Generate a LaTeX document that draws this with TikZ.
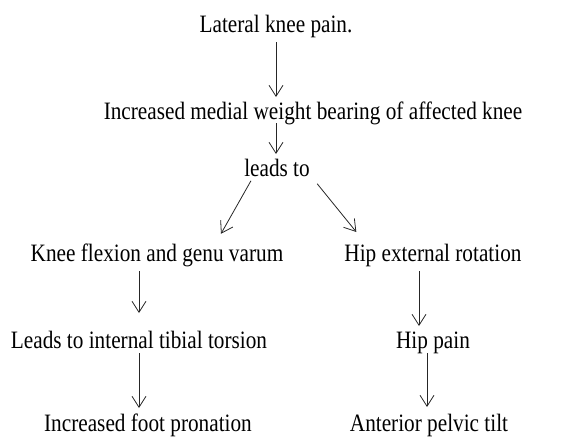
\documentclass[tikz,border=0pt]{standalone}
\usepackage{fontspec}
\setmainfont[FakeStretch=0.85]{Liberation Serif}
\usetikzlibrary{arrows.meta,positioning}

\begin{document}
\begin{tikzpicture}[x=1pt, y=1pt,
    stage/.style={font=\fontsize{25}{30}\selectfont, anchor=base, inner sep=0pt,
      outer sep=5pt, text height=17pt, text depth=5pt},
    flow/.style={-{Straight Barb[length=11pt,width=14pt]}, line width=0.8pt, black!85},
  ]
  \useasboundingbox (0,0) rectangle (585,-437);
  % The chain of findings
  \node[stage] (lat)  at (276,-32)  {Lateral knee pain.};
  \node[stage] (med)  at (313,-119) {Increased medial weight bearing of affected knee};
  \node[stage] (lead) at (277,-176) {leads to};
  \node[stage] (knee) at (157,-261) {Knee flexion and genu varum};
  \node[stage] (hipx) at (433,-261) {Hip external rotation};
  \node[stage] (tib)  at (139,-348) {Leads to internal tibial torsion};
  \node[stage] (hipp) at (433,-348) {Hip pain};
  \node[stage] (pron) at (148,-431) {Increased foot pronation};
  \node[stage] (tilt) at (429,-431) {Anterior pelvic tilt};
  % Arrows
  \draw[flow] (lat.south) -- (lat.south |- med.north);
  \draw[flow, shorten <=-6pt] (lat.south |- med.south) -- (lat.south |- lead.north);
  \draw[flow, shorten <=-6pt, shorten >=6pt] ([xshift=-29pt]lead.south) -- ([xshift=61pt]knee.north);
  \draw[flow, shorten <=-3pt, shorten >=9pt] ([xshift=42pt]lead.south) -- ([xshift=-71pt]hipx.north);
  \draw[flow, shorten >=13pt] (tib.north |- knee.south) -- (tib.north);
  \draw[flow, shorten <=-5pt, shorten >=1pt] (tib.south) -- (tib.south |- pron.north);
  \draw[flow] ([xshift=-14pt]hipx.south) -- ([xshift=-14pt]hipp.north);
  \draw[flow, shorten <=-5pt, shorten >=2pt] ([xshift=-6pt]hipp.south) -- ([xshift=-6pt]hipp.south |- tilt.north);
\end{tikzpicture}
\end{document}
